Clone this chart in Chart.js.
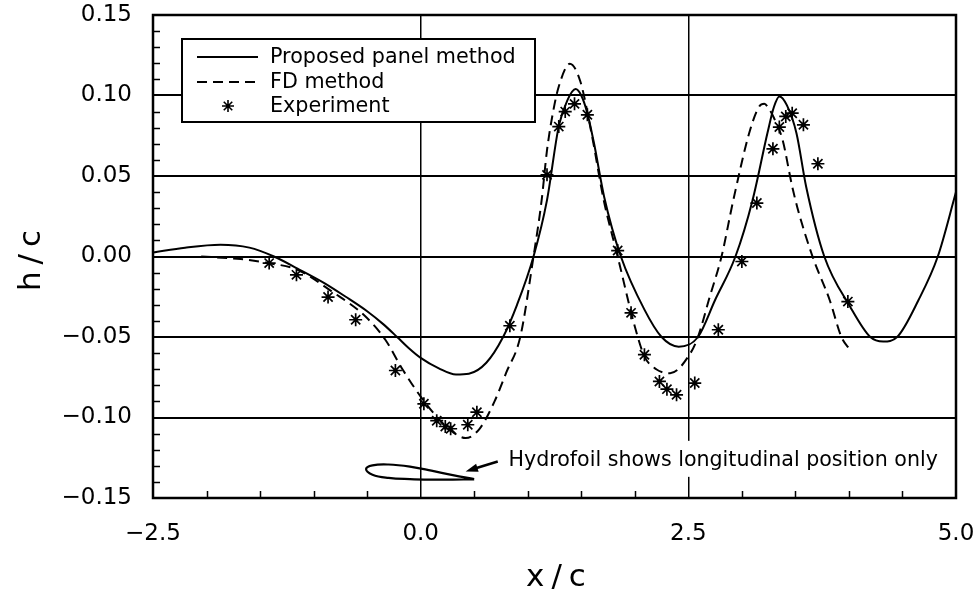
<!DOCTYPE html>
<html>
<head>
<meta charset="utf-8">
<script src="https://cdn.jsdelivr.net/npm/chart.js@4.4.1/dist/chart.umd.min.js"></script>
<style>
  html, body { margin: 0; padding: 0; background: #fff; }
  #wrap { width: 978px; height: 599px; }
</style>
</head>
<body>
<div id="wrap"><canvas id="wave" width="978" height="599"></canvas></div>
<script>
// axis ticks (labelled values)
const xTickLabels = [-2.5, 0.0, 2.5, 5.0];
const yTickLabels = [-0.15, -0.10, -0.05, 0.00, 0.05, 0.10, 0.15];

// Proposed panel method (solid)
const panelX = [-2.5, -2.2, -1.87, -1.6, -1.37, -1.15, -0.9, -0.7, -0.5, -0.35, -0.22, -0.11, 0.0, 0.17, 0.33, 0.45, 0.613, 0.77, 0.9, 1.054, 1.18, 1.29, 1.37, 1.447, 1.5, 1.557, 1.62, 1.714, 1.87, 2.09, 2.25, 2.41, 2.59, 2.75, 2.94, 3.1, 3.24, 3.3, 3.35, 3.42, 3.51, 3.6, 3.77, 4.01, 4.2, 4.32, 4.45, 4.65, 4.83, 5.0];
const panelY = [0.0025, 0.0055, 0.0073, 0.0055, 0.0, -0.0075, -0.0165, -0.025, -0.034, -0.042, -0.05, -0.057, -0.063, -0.0695, -0.0733, -0.0728, -0.066, -0.05, -0.03, 0.0, 0.035, 0.081, 0.097, 0.104, 0.100, 0.089, 0.070, 0.037, 0.0, -0.033, -0.05, -0.056, -0.05, -0.027, 0.0, 0.035, 0.077, 0.093, 0.0994, 0.094, 0.0766, 0.0435, 0.0, -0.031, -0.05, -0.0528, -0.05, -0.027, 0.0, 0.04];

// FD method (dashed)
const fdX = [-2.05, -1.68, -1.43, -1.15, -0.83, -0.52, -0.33, -0.17, 0.0, 0.17, 0.3, 0.42, 0.55, 0.69, 0.8, 0.93, 1.054, 1.13, 1.18, 1.24, 1.29, 1.393, 1.49, 1.6, 1.71, 1.84, 2.0, 2.09, 2.2, 2.33, 2.52, 2.59, 2.7, 2.81, 2.92, 3.07, 3.16, 3.21, 3.25, 3.3, 3.38, 3.47, 3.52, 3.66, 3.82, 3.93, 4.01];
const fdY = [0.0, -0.0016, -0.004, -0.0083, -0.0217, -0.037, -0.0517, -0.070, -0.087, -0.101, -0.109, -0.1128, -0.107, -0.09, -0.072, -0.05, 0.0, 0.035, 0.066, 0.091, 0.1056, 0.1197, 0.109, 0.075, 0.035, 0.0, -0.0435, -0.062, -0.07, -0.0725, -0.06, -0.05, -0.025, 0.0, 0.035, 0.077, 0.093, 0.0949, 0.092, 0.086, 0.0725, 0.0435, 0.030, 0.0, -0.027, -0.05, -0.058];

// Experiment (stars)
const expX = [-1.415, -1.16, -0.865, -0.607, -0.236, 0.03, 0.15, 0.23, 0.28, 0.44, 0.525, 0.833, 1.18, 1.29, 1.35, 1.437, 1.557, 1.84, 1.965, 2.09, 2.23, 2.3, 2.39, 2.56, 2.78, 3.0, 3.14, 3.29, 3.35, 3.41, 3.47, 3.575, 3.71, 3.99];
const expY = [-0.0041, -0.0114, -0.0252, -0.0393, -0.0708, -0.0915, -0.102, -0.1056, -0.107, -0.1045, -0.0967, -0.043, 0.0507, 0.0807, 0.090, 0.0948, 0.088, 0.0037, -0.035, -0.061, -0.0776, -0.0824, -0.0859, -0.0786, -0.0455, -0.0031, 0.0332, 0.0669, 0.0804, 0.087, 0.089, 0.0818, 0.0576, -0.028];

// hydrofoil outline (trailing edge -> upper -> leading edge -> lower -> trailing edge)
const foilX = [0.5, 0.3, 0.1, -0.1, -0.3, -0.45, -0.51, -0.45, -0.3, -0.1, 0.1, 0.3, 0.5];
const foilY = [-0.1382, -0.1358, -0.1330, -0.1305, -0.1292, -0.1297, -0.1320, -0.1355, -0.1375, -0.1383, -0.1386, -0.1386, -0.1384];

const note = "Hydrofoil shows longitudinal position only";
const noteAt = { x: 0.82, y: -0.1263 };
const arrowFrom = { x: 0.72, y: -0.1273 };
const arrowTo = { x: 0.42, y: -0.1335 };

const zip = (xs, ys) => xs.map((v, i) => ({ x: v, y: ys[i] }));
const isMult = (v, s) => Math.abs(v / s - Math.round(v / s)) < 1e-6;
const minus = s => s.replace("-", "\u2212");
const FONT = "'DejaVu Sans', sans-serif";

Chart.defaults.color = "#000";
Chart.defaults.font.family = FONT;

// fixed axis boxes so the plot frame lands where the figure has it
function fixBox(size) {
    return s => {
        if (s.isHorizontal()) s.height = size; else s.width = size;
        s.paddingTop = 0;
        s.paddingBottom = 0;
        s.paddingLeft = 0;
        s.paddingRight = 0;
    };
}

const figure = {
    id: "figure",
    afterDraw(chart) {
        const { ctx, chartArea: a, scales: { x, y } } = chart;
        ctx.save();
        ctx.strokeStyle = "#000";
        ctx.fillStyle = "#000";

        // inward minor ticks
        ctx.lineWidth = 1.5;
        ctx.beginPath();
        y.ticks.forEach(t => {
            if (isMult(t.value, 0.05)) return;
            const py = Math.round(y.getPixelForValue(t.value)) + 0.5;
            ctx.moveTo(a.left, py);
            ctx.lineTo(a.left + 7, py);
        });
        x.ticks.forEach(t => {
            if (isMult(t.value, 2.5)) return;
            const px = Math.round(x.getPixelForValue(t.value)) + 0.5;
            ctx.moveTo(px, a.bottom);
            ctx.lineTo(px, a.bottom - 7);
        });
        ctx.stroke();

        // frame
        ctx.lineWidth = 2.5;
        ctx.strokeRect(a.left, a.top, a.right - a.left, a.bottom - a.top);

        // legend
        const lx = a.left + 29, ly = a.top + 24, lw = 353, lh = 83;
        ctx.fillStyle = "#fff";
        ctx.fillRect(lx, ly, lw, lh);
        ctx.lineWidth = 2;
        ctx.strokeRect(lx, ly, lw, lh);
        ctx.fillStyle = "#000";
        ctx.font = "20.7px " + FONT;
        ctx.textBaseline = "middle";
        ctx.textAlign = "left";
        const rows = [ly + 18, ly + 43, ly + 67];
        chart.data.datasets.slice(0, 3).forEach((ds, i) => {
            const ry = rows[i];
            if (ds.showLine) {
                ctx.lineWidth = 2;
                ctx.setLineDash(ds.borderDash || []);
                ctx.beginPath();
                ctx.moveTo(lx + 15, ry);
                ctx.lineTo(lx + 76, ry);
                ctx.stroke();
                ctx.setLineDash([]);
            } else {
                drawStar(ctx, lx + 46, ry, 6);
            }
            ctx.fillText(ds.label, lx + 88, ry + 1);
        });

        // hydrofoil note
        const tx = x.getPixelForValue(noteAt.x), ty = y.getPixelForValue(noteAt.y);
        ctx.font = "20.6px " + FONT;
        const tw = ctx.measureText(note).width;
        ctx.fillStyle = "#fff";
        ctx.fillRect(tx - 5, ty - 19, tw + 10, 36);
        ctx.fillStyle = "#000";
        ctx.fillText(note, tx, ty + 1);

        const ax0 = x.getPixelForValue(arrowFrom.x), ay0 = y.getPixelForValue(arrowFrom.y);
        const ax1 = x.getPixelForValue(arrowTo.x), ay1 = y.getPixelForValue(arrowTo.y);
        const ang = Math.atan2(ay1 - ay0, ax1 - ax0);
        ctx.lineWidth = 2.5;
        ctx.beginPath();
        ctx.moveTo(ax0, ay0);
        ctx.lineTo(ax1 - 8 * Math.cos(ang), ay1 - 8 * Math.sin(ang));
        ctx.stroke();
        ctx.beginPath();
        ctx.moveTo(ax1, ay1);
        ctx.lineTo(ax1 - 13 * Math.cos(ang - 0.33), ay1 - 13 * Math.sin(ang - 0.33));
        ctx.lineTo(ax1 - 13 * Math.cos(ang + 0.33), ay1 - 13 * Math.sin(ang + 0.33));
        ctx.closePath();
        ctx.fill();

        // axis titles
        ctx.font = "31px " + FONT;
        ctx.textAlign = "center";
        ctx.letterSpacing = "7px";
        ctx.fillText("x/c", (a.left + a.right) / 2 + 5, 578);
        ctx.translate(32, 260);
        ctx.rotate(-Math.PI / 2);
        ctx.fillText("h/c", 3, 0);
        ctx.restore();
    }
};

function drawStar(ctx, cx, cy, r) {
    ctx.save();
    ctx.lineWidth = 1.6;
    ctx.beginPath();
    for (let k = 0; k < 4; k++) {
        const t = k * Math.PI / 4;
        ctx.moveTo(cx + r * Math.cos(t), cy + r * Math.sin(t));
        ctx.lineTo(cx - r * Math.cos(t), cy - r * Math.sin(t));
    }
    ctx.stroke();
    ctx.restore();
}

new Chart(document.getElementById("wave"), {
    type: "scatter",
    data: {
        datasets: [
            {
                label: "Proposed panel method",
                data: zip(panelX, panelY),
                showLine: true,
                borderColor: "#000",
                borderWidth: 2,
                pointRadius: 0,
                cubicInterpolationMode: "monotone",
            },
            {
                label: "FD method",
                data: zip(fdX, fdY),
                showLine: true,
                borderColor: "#000",
                borderWidth: 2,
                borderDash: [10, 6],
                pointRadius: 0,
                cubicInterpolationMode: "monotone",
            },
            {
                label: "Experiment",
                data: zip(expX, expY),
                showLine: false,
                pointStyle: "star",
                pointRadius: 6.5,
                borderColor: "#000",
                borderWidth: 1.7,
            },
            {
                label: "Hydrofoil",
                data: zip(foilX, foilY),
                showLine: true,
                borderColor: "#000",
                borderWidth: 2.2,
                pointRadius: 0,
                tension: 0.4,
            },
        ],
    },
    options: {
        responsive: false,
        animation: false,
        layout: { autoPadding: false, padding: { top: 15, right: 22, bottom: 0, left: 0 } },
        plugins: {
            legend: { display: false },
            tooltip: { enabled: false },
        },
        scales: {
            x: {
                type: "linear",
                min: -2.5,
                max: 5.0,
                afterFit: fixBox(101),
                border: { display: false },
                grid: {
                    drawTicks: false,
                    color: c => (c.tick && isMult(c.tick.value, 2.5) && c.tick.value > -2.4 && c.tick.value < 4.9) ? "#000" : "rgba(0,0,0,0)",
                    lineWidth: 1.5,
                },
                ticks: {
                    stepSize: 0.5,
                    autoSkip: false,
                    maxRotation: 0,
                    padding: 22,
                    font: { size: 23, family: FONT },
                    callback: v => xTickLabels.some(t => Math.abs(t - v) < 1e-6) ? minus(v.toFixed(1)) : "",
                },
            },
            y: {
                type: "linear",
                min: -0.15,
                max: 0.15,
                afterFit: fixBox(153),
                border: { display: false },
                grid: {
                    drawTicks: false,
                    color: c => (c.tick && isMult(c.tick.value, 0.05) && Math.abs(c.tick.value) < 0.14) ? "#000" : "rgba(0,0,0,0)",
                    lineWidth: 2,
                },
                ticks: {
                    stepSize: 0.01,
                    autoSkip: false,
                    padding: 21,
                    font: { size: 23, family: FONT },
                    callback: v => {
                        if (!yTickLabels.some(t => Math.abs(t - v) < 1e-6)) return "";
                        return Math.abs(v) < 1e-9 ? "0.00" : minus(v.toFixed(2));
                    },
                },
            },
        },
    },
    plugins: [figure],
});
</script>
</body>
</html>
